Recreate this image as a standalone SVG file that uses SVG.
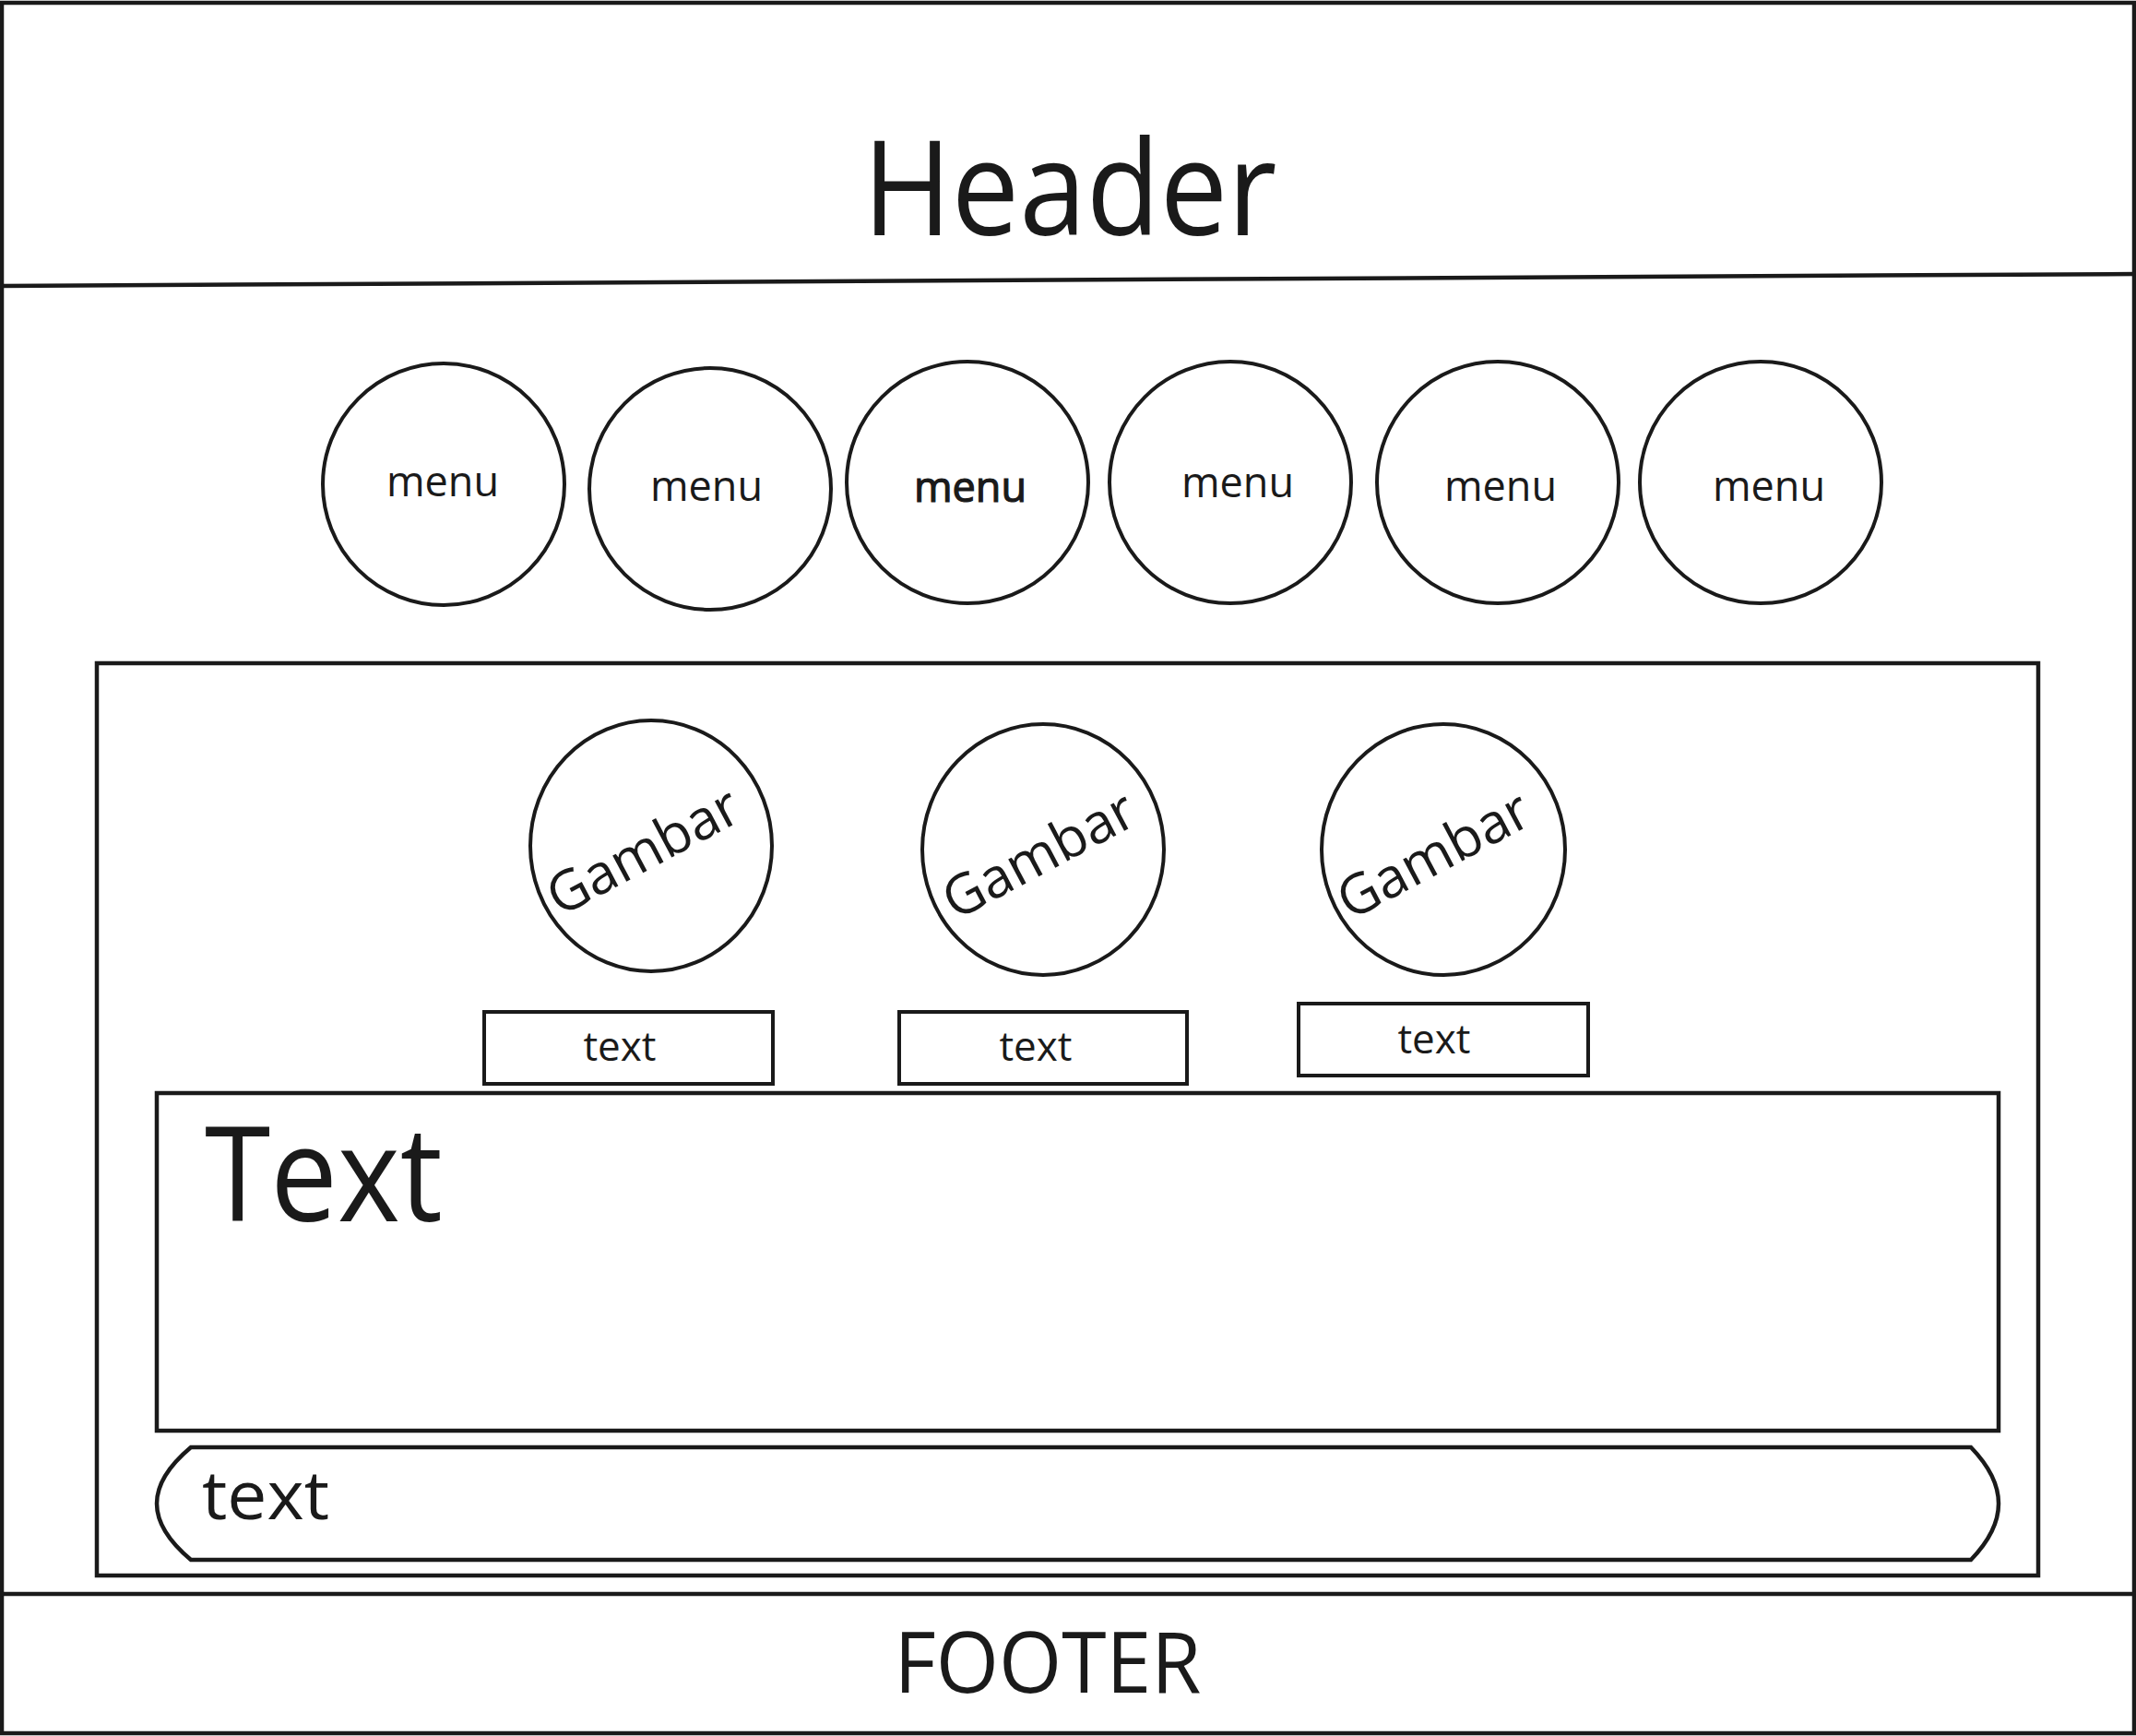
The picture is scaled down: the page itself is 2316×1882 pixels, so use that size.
<svg xmlns="http://www.w3.org/2000/svg" width="2316" height="1882" viewBox="0 0 2316 1882">
<style>
.ln{fill:none;stroke:#1a1a1a;stroke-width:4.5}
.cl{fill:#fff;stroke:#1a1a1a;stroke-width:4}
.bx{fill:#fff;stroke:#1a1a1a;stroke-width:4}
.t{font-family:"Open Sans","Noto Sans","Liberation Sans",sans-serif;fill:#1a1a1a;text-anchor:middle}
.menu{font-size:45px}
.small{font-size:44px}
.gam{font-size:60px}
</style>
<rect width="2316" height="1882" fill="#fff"/>
<g id="frame">
<rect class="ln" x="2" y="3" width="2312" height="1876"/>
</g>
<g id="header">
<line class="ln" x1="0" y1="310" x2="2316" y2="297"/>
<text class="t" x="1160" y="255" font-size="143" textLength="449" lengthAdjust="spacingAndGlyphs">Header</text>
</g>
<g id="menu1"><circle class="cl" cx="481" cy="525" r="131"/><text class="t menu" x="480" y="538">menu</text></g>
<g id="menu2"><circle class="cl" cx="770" cy="530" r="131"/><text class="t menu" x="766" y="543">menu</text></g>
<g id="menu3"><circle class="cl" cx="1049" cy="523" r="131"/><text class="t menu" x="1052" y="544" stroke="#1a1a1a" stroke-width="1.2">menu</text></g>
<g id="menu4"><circle class="cl" cx="1334" cy="523" r="131"/><text class="t menu" x="1342" y="539">menu</text></g>
<g id="menu5"><circle class="cl" cx="1624" cy="523" r="131"/><text class="t menu" x="1627" y="543">menu</text></g>
<g id="menu6"><circle class="cl" cx="1909" cy="523" r="131"/><text class="t menu" x="1918" y="543">menu</text></g>
<g id="content">
<rect class="ln" x="105" y="719" width="2105" height="989"/>
</g>
<g id="gambar1"><ellipse class="cl" cx="706" cy="917" rx="131" ry="136"/><text class="t gam" transform="translate(707,941) rotate(-28)">Gambar</text></g>
<g id="gambar2"><ellipse class="cl" cx="1131" cy="921" rx="131" ry="136"/><text class="t gam" transform="translate(1136,945) rotate(-28)">Gambar</text></g>
<g id="gambar3"><ellipse class="cl" cx="1565" cy="921" rx="132" ry="136"/><text class="t gam" transform="translate(1564,945) rotate(-28)">Gambar</text></g>
<g id="text1"><rect class="bx" x="525" y="1097" width="313" height="78"/><text class="t small" x="672" y="1150">text</text></g>
<g id="text2"><rect class="bx" x="975" y="1097" width="312" height="78"/><text class="t small" x="1123" y="1150">text</text></g>
<g id="text3"><rect class="bx" x="1408" y="1088" width="314" height="78"/><text class="t small" x="1555" y="1142">text</text></g>
<g id="textblock">
<rect class="ln" x="170" y="1185" width="1997" height="366"/>
<text class="t" x="351" y="1324" font-size="143" textLength="258" lengthAdjust="spacingAndGlyphs">Text</text>
</g>
<g id="pill">
<path class="ln" d="M207,1569 H2137 Q2167,1600 2167,1630 Q2167,1660 2137,1691 H207 Q170,1660 170,1630 Q170,1600 207,1569 Z"/>
<text class="t" x="288" y="1647" font-size="74" textLength="138" lengthAdjust="spacingAndGlyphs">text</text>
</g>
<g id="footer">
<line class="ln" x1="0" y1="1728" x2="2316" y2="1728"/>
<text class="t" x="1136" y="1835" font-size="91" textLength="333" lengthAdjust="spacingAndGlyphs">FOOTER</text>
</g>
<g id="connectors"></g>
</svg>
